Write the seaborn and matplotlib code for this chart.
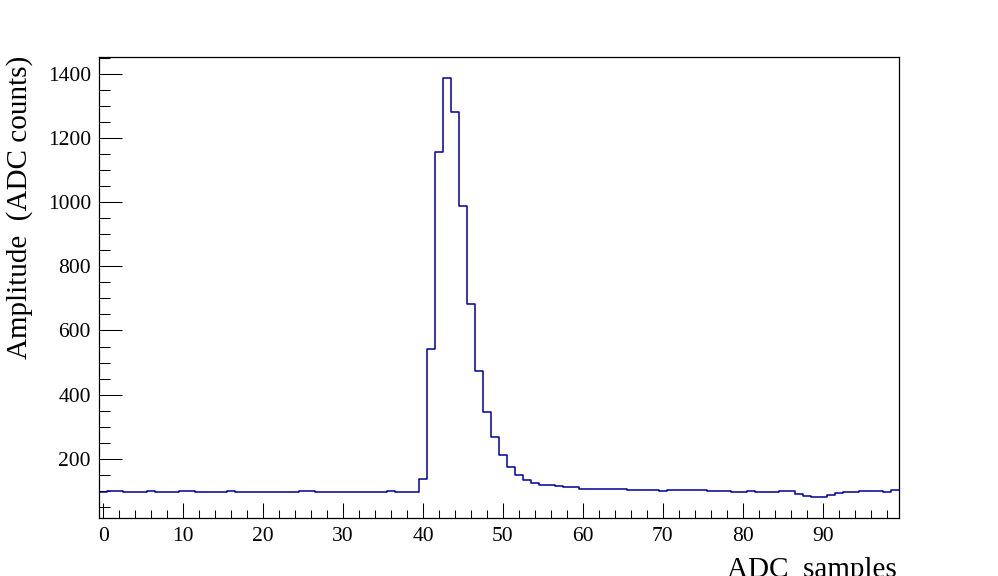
import pandas as pd
import matplotlib
matplotlib.use("Agg")
import matplotlib.pyplot as plt
from matplotlib.ticker import MultipleLocator
import seaborn as sns

# ADC samples (bin centres) and amplitudes
samples = list(range(100))
amplitude = [
    96, 99, 99, 96, 96, 96, 99, 96, 96, 96,     # 0-9
    99, 99, 96, 96, 96, 96, 99, 96, 96, 96,     # 10-19
    96, 96, 96, 96, 96, 99, 99, 96, 96, 96,     # 20-29
    96, 96, 96, 96, 96, 96, 99, 96, 96, 96,     # 30-39
    137, 543, 1155, 1386, 1281, 987, 681, 475, 347, 268,  # 40-49
    211, 175, 149, 133, 124, 118, 118, 115, 111, 111,     # 50-59
    105, 105, 105, 105, 105, 105, 102, 102, 102, 102,     # 60-69
    99, 102, 102, 102, 102, 102, 99, 99, 99, 96,          # 70-79
    96, 99, 96, 96, 96, 99, 99, 90, 84, 80,               # 80-89
    80, 86, 93, 96, 96, 99, 99, 99, 96, 102,              # 90-99
]

df = pd.DataFrame({"sample": samples, "amp": amplitude})

sns.set_style("ticks")
plt.rcParams["font.family"] = ["Liberation Serif", "DejaVu Serif"]
plt.rcParams["text.color"] = "black"
plt.rcParams["axes.labelcolor"] = "black"
plt.rcParams["xtick.color"] = "black"
plt.rcParams["ytick.color"] = "black"

fig = plt.figure(figsize=(9.98, 5.76), dpi=100)
ax = fig.add_axes([0.0995, 0.1002, 0.801, 0.8003])

# one bin per ADC sample, centred on the integer
sns.histplot(data=df, x="sample", weights="amp", discrete=True, element="step",
             fill=False, color="#000099", linewidth=1.1, ax=ax)

amin, amax = min(amplitude), max(amplitude)
span = amax - amin
ax.set_xlim(-0.5, 99.5)
ax.set_ylim(amin - 0.05 * span, amax + 0.05 * span)

ax.xaxis.set_major_locator(MultipleLocator(10))
ax.xaxis.set_minor_locator(MultipleLocator(2))
ax.yaxis.set_major_locator(MultipleLocator(200))
ax.yaxis.set_minor_locator(MultipleLocator(50))

ax.tick_params(axis="both", which="both", direction="in", top=False, right=False,
               width=0.75, color="black", labelcolor="black", labelsize=15.5)
ax.tick_params(axis="x", which="major", length=10.8, pad=6)
ax.tick_params(axis="x", which="minor", length=5.5)
ax.tick_params(axis="y", which="major", length=16.5, pad=6)
ax.tick_params(axis="y", which="minor", length=8.2)

for s in ax.spines.values():
    s.set_visible(True)
    s.set_linewidth(0.9)
    s.set_color("black")

ax.set_xlabel("")
ax.set_ylabel("")
fig.text(897 / 998, -0.001, "ADC  samples", ha="right", va="baseline",
         fontsize=21, color="black")
fig.text(20 / 998, 1 - 56 / 576, "Amplitude  (ADC counts)", rotation=90,
         ha="center", va="top", fontsize=21, color="black")

fig.savefig("out.png", dpi=100)
